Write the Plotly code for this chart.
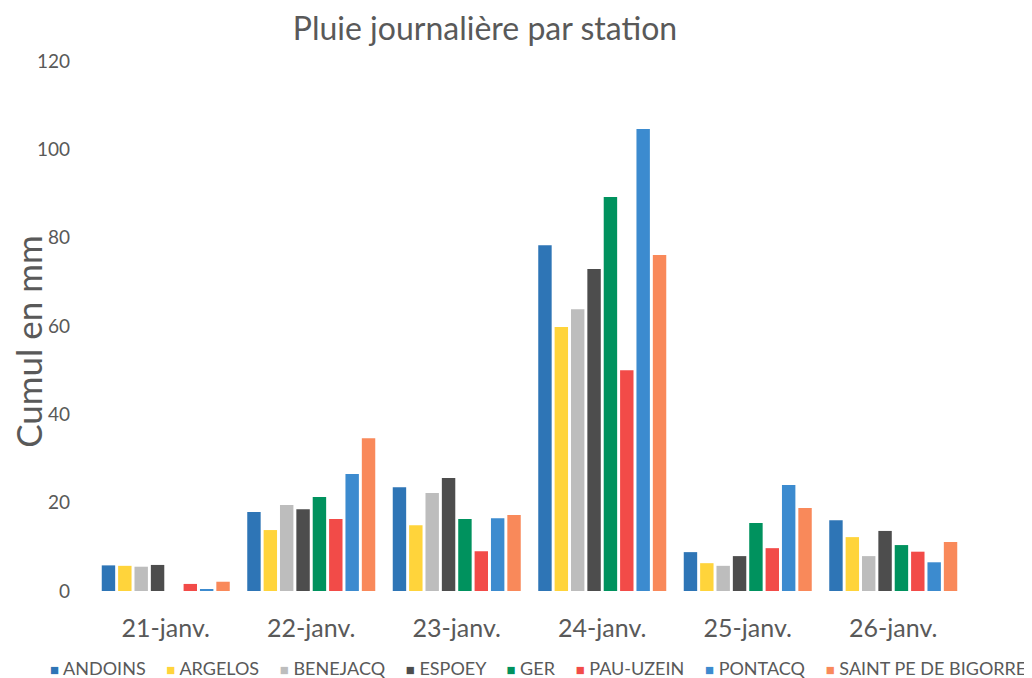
import plotly.graph_objects as go

DAYS = ['21-janv.', '22-janv.', '23-janv.', '24-janv.', '25-janv.', '26-janv.']
STATIONS = ['ANDOINS', 'ARGELOS', 'BENEJACQ', 'ESPOEY', 'GER',
            'PAU-UZEIN', 'PONTACQ', 'SAINT PE DE BIGORRE']

# cumul journalier en mm, un tableau par station (None = pas de mesure)
andoins = [5.8, 17.9, 23.5, 78.3, 8.8, 16.0]
argelos = [5.7, 13.8, 14.9, 59.8, 6.3, 12.2]
benejacq = [5.5, 19.5, 22.2, 63.8, 5.7, 7.9]
espoey = [5.9, 18.5, 25.6, 72.9, 7.9, 13.6]
ger = [None, 21.3, 16.3, 89.2, 15.4, 10.4]
pau_uzein = [1.6, 16.3, 9.0, 50.0, 9.7, 8.9]
pontacq = [0.4, 26.5, 16.5, 104.6, 24.0, 6.5]
saint_pe = [2.1, 34.6, 17.2, 76.1, 18.8, 11.1]

VALUES = [andoins, argelos, benejacq, espoey, ger, pau_uzein, pontacq, saint_pe]
COLORS = ['#2E75B6', '#FFD43B', '#BDBDBD', '#4D4D4D', '#00925E',
          '#F24B48', '#3C8BCF', '#F9895A']

FONT = 'Lato'
GREY = '#595959'

# the page body keeps its 8px margin, so the figure is 8px smaller than the window
W, H = 1024, 670

fig = go.Figure()
for name, vals, color in zip(STATIONS, VALUES, COLORS):
    fig.add_trace(go.Bar(
        x=DAYS,
        y=vals,
        name=name,
        marker=dict(color=color, line=dict(width=0)),
    ))

# the built-in legend wraps on two rows at this width, so write it as one line of text
legend_text = '&nbsp;&nbsp;&nbsp;&nbsp;&#8201;'.join(
    f"<span style='color:{c};font-size:15px'>■</span>&nbsp;{s}"
    for s, c in zip(STATIONS, COLORS)
)

fig.update_layout(
    width=W,
    height=H,
    barmode='group',
    bargap=0.1,
    bargroupgap=0.18,
    showlegend=False,
    paper_bgcolor='white',
    plot_bgcolor='white',
    margin=dict(l=85, r=66, t=53, b=87, autoexpand=False),
    font=dict(family=FONT, color=GREY),
    title=dict(
        text='Pluie journalière par station',
        x=477 / W,
        xanchor='center',
        y=1 - 21 / H,
        yanchor='middle',
        font=dict(family=FONT, size=32, color=GREY),
    ),
    xaxis=dict(
        automargin=False,
        showgrid=False,
        zeroline=False,
        showline=False,
        tickfont=dict(size=25, color=GREY),
        ticks='',
        ticklabelstandoff=20,
    ),
    yaxis=dict(
        automargin=False,
        range=[0, 120],
        dtick=20,
        showgrid=False,
        zeroline=False,
        showline=False,
        tickfont=dict(size=19, color=GREY),
        ticklabelstandoff=22,
    ),
    annotations=[
        # y axis title, sits a bit below the middle of the plot like in the original
        dict(
            text='Cumul en mm',
            xref='paper',
            yref='paper',
            x=-0.0745,
            xanchor='center',
            y=0.472,
            yanchor='middle',
            textangle=-90,
            showarrow=False,
            font=dict(family=FONT, size=35, color=GREY),
        ),
        dict(
            text=legend_text,
            xref='paper',
            yref='paper',
            x=-0.052,
            xanchor='left',
            y=-0.145,
            yanchor='middle',
            showarrow=False,
            font=dict(family=FONT, size=18, color=GREY),
        ),
    ],
)

fig.write_html('out.html')
